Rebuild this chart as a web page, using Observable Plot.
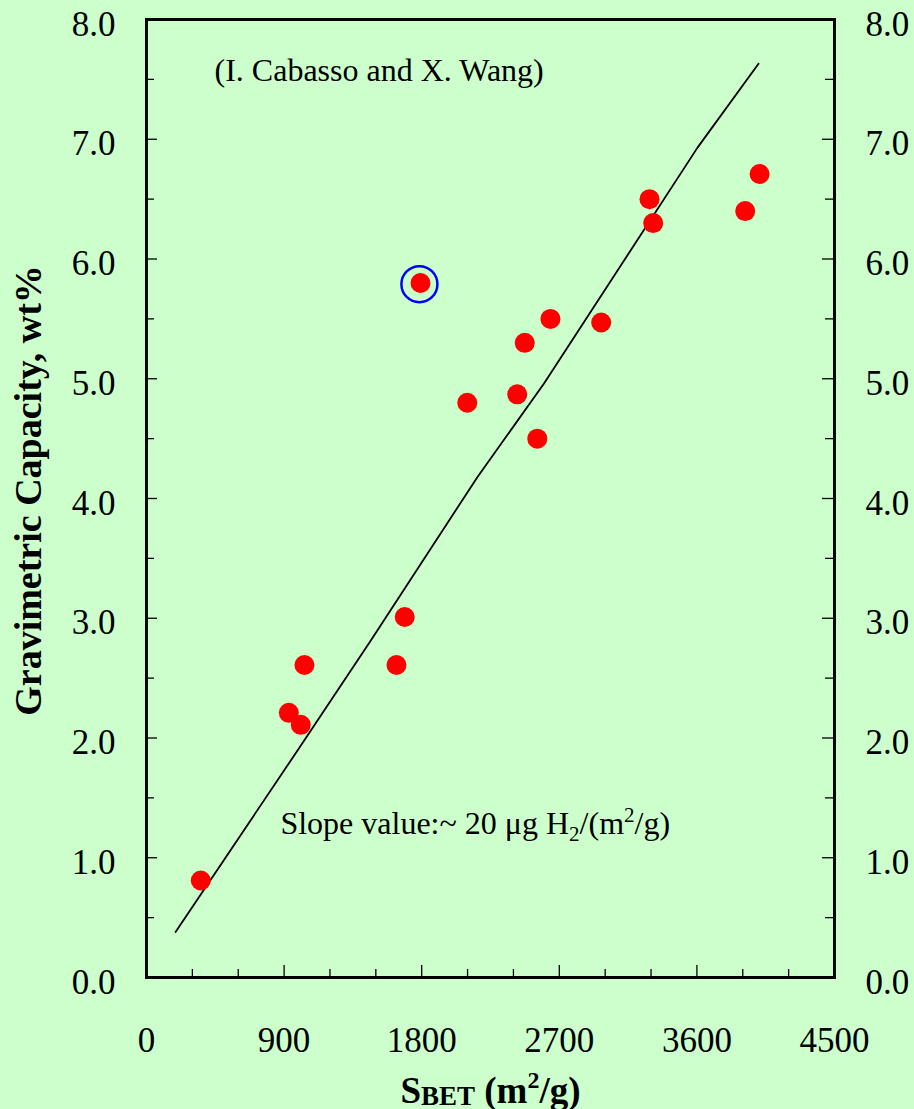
<!DOCTYPE html>
<html>
<head>
<meta charset="utf-8">
<script src="https://cdn.jsdelivr.net/npm/d3@7"></script>
<script src="https://cdn.jsdelivr.net/npm/@observablehq/plot@0.6"></script>
<style>
  html, body { margin: 0; padding: 0; background: #ccffcc; }
</style>
</head>
<body>
<div id="chart"></div>
<script>
// Data: surface area (m2/g) vs gravimetric capacity (wt%)
const sbet = [355, 931, 1009, 1033, 1635, 1689, 1792, 2098, 2425, 2474, 2556, 2642, 2974, 3290, 3314, 3916, 4010];
const capacity = [0.81, 2.21, 2.11, 2.61, 2.61, 3.01, 5.80, 4.80, 4.87, 5.30, 4.50, 5.50, 5.47, 6.50, 6.30, 6.40, 6.71];
// Highlighted point (ringed)
const ringX = [1785];
const ringY = [5.79];
// Trend line vertices (as drawn)
const fitX = [190, 990, 1465, 2165, 2600, 3604, 4003];
const fitY = [0.38, 1.90, 2.81, 4.18, 4.96, 6.93, 7.63];
// Ticks
const xTicks = [0, 900, 1800, 2700, 3600, 4500];
const xMajorInner = [900, 1800, 2700, 3600];
const xMinor = [300, 600, 1200, 1500, 2100, 2400, 3000, 3300, 3900, 4200];
const yTicks = [0, 1, 2, 3, 4, 5, 6, 7, 8];
const yMajorInner = [1, 2, 3, 4, 5, 6, 7];
const yMinor = [0.5, 1.5, 2.5, 3.5, 4.5, 5.5, 6.5, 7.5];
// Texts
const yLabel = "Gravimetric Capacity, wt%";
const sourceNote = "(I. Cabasso and X. Wang)";
const slopeNote = "SLOPE_NOTE";
const xLabel = "X_LABEL";

const W = 914, H = 1109;
const mL = 146, mR = 80, mT = 19, mB = 132;
const iw = W - mL - mR, ih = H - mT - mB;

const pts = sbet.map((x, i) => ({x, y: capacity[i]}));
const ring = ringX.map((x, i) => ({x, y: ringY[i]}));
const fit = fitX.map((x, i) => ({x, y: fitY[i]}));
const fmt = d3.format(".1f");

const chart = Plot.plot({
  width: W, height: H,
  marginLeft: mL, marginRight: mR, marginTop: mT, marginBottom: mB,
  x: {domain: [0, 4500]},
  y: {domain: [0, 8]},
  style: {background: "#ccffcc", fontFamily: "'Liberation Serif', 'Times New Roman', serif", color: "black"},
  marks: [
    // tick labels
    Plot.axisX(xTicks, {anchor: "bottom", tickSize: 0, tickPadding: 50, fontSize: 35, tickFormat: d => String(d), label: null}),
    Plot.axisY(yTicks, {anchor: "left", tickSize: 0, tickPadding: 31, fontSize: 35, dy: 5, tickFormat: fmt, label: null}),
    Plot.axisY(yTicks, {anchor: "right", tickSize: 0, tickPadding: 31, fontSize: 35, dy: 5, tickFormat: fmt, label: null}),
    // inward ticks
    Plot.tickX(xMajorInner, {x: d => d, insetTop: ih - 12, stroke: "black", strokeWidth: 1.3}),
    Plot.tickX(xMinor, {x: d => d, insetTop: ih - 8, stroke: "black", strokeWidth: 1.3}),
    Plot.tickY(yMajorInner, {y: d => d, insetRight: iw - 11, stroke: "black", strokeWidth: 1.3}),
    Plot.tickY(yMinor, {y: d => d, insetRight: iw - 8, stroke: "black", strokeWidth: 1.3}),
    Plot.tickY(yMajorInner, {y: d => d, insetLeft: iw - 12, stroke: "black", strokeWidth: 1.3}),
    Plot.tickY(yMinor, {y: d => d, insetLeft: iw - 9, stroke: "black", strokeWidth: 1.3}),
    Plot.frame({stroke: "black", strokeWidth: 3}),
    // trend line
    Plot.line(fit, {x: "x", y: "y", stroke: "black", strokeWidth: 1.8}),
    // data
    Plot.dot(pts, {x: "x", y: "y", r: 10, fill: "#ff0000"}),
    Plot.dot(ring, {x: "x", y: "y", r: 18, stroke: "#0000ff", strokeWidth: 2.5, fill: "none"}),
    // annotations
    Plot.text([sourceNote], {x: () => 445, y: () => 7.49, text: d => d, textAnchor: "start", lineAnchor: "bottom", fontSize: 32}),
    Plot.text([slopeNote], {x: () => 876, y: () => 1.20, text: d => d, textAnchor: "start", lineAnchor: "bottom", fontSize: 32}),
    Plot.text([yLabel], {frameAnchor: "left", text: d => d, rotate: -90, textAnchor: "middle", dx: -118, dy: -8, fontSize: 38, fontWeight: "bold"}),
    Plot.text([xLabel], {frameAnchor: "bottom", text: d => d, textAnchor: "middle", dy: 125, lineAnchor: "bottom", fontSize: 37, fontWeight: "bold"})
  ]
});

document.getElementById("chart").appendChild(chart);

function richify(marker, parts) {
  d3.select(chart).selectAll("text").filter(function() { return this.textContent === marker; }).each(function() {
    const t = d3.select(this);
    t.text(null);
    for (const p of parts) {
      const s = t.append("tspan").text(p.t);
      if (p.size) s.attr("font-size", p.size);
      if (p.dy) s.attr("dy", p.dy);
    }
  });
}
richify(slopeNote, [
  {t: "Slope value:~ 20 \u03bcg H"},
  {t: "2", size: 21, dy: 7},
  {t: "/(m", dy: -7},
  {t: "2", size: 21, dy: -12},
  {t: "/g)", dy: 12}
]);
richify(xLabel, [
  {t: "S"},
  {t: "BET", size: 27, dy: 2},
  {t: " (m", dy: -2},
  {t: "2", size: 24, dy: -15},
  {t: "/g)", dy: 15}
]);
</script>
</body>
</html>
